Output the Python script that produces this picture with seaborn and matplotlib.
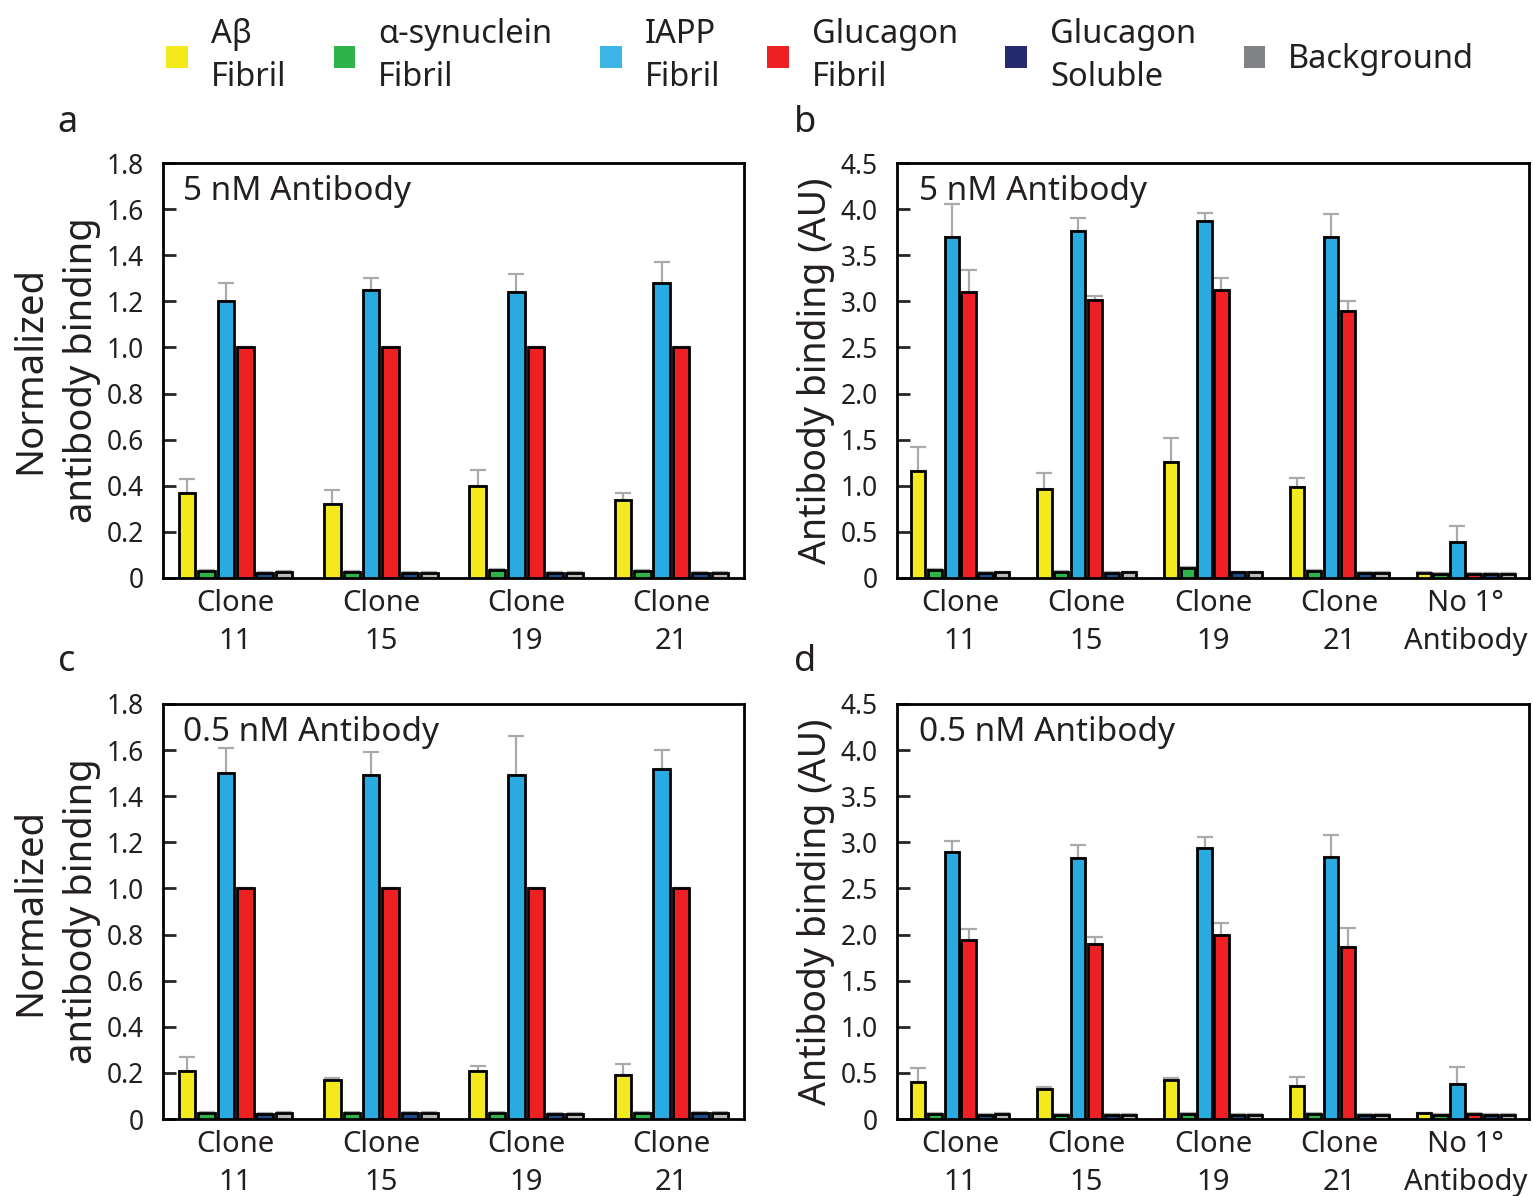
import numpy as np
import pandas as pd
import matplotlib
matplotlib.use("Agg")
import matplotlib.pyplot as plt
import seaborn as sns
from matplotlib.patches import Patch
from matplotlib.ticker import FuncFormatter

sns.set_style("white")
plt.rcParams['font.family'] = ['Noto Sans', 'DejaVu Sans']

series = ["Aβ\nFibril", "α-synuclein\nFibril", "IAPP\nFibril", "Glucagon\nFibril", "Glucagon\nSoluble", "Background"]
colors = ["#F2EA1C", "#2DB34A", "#3CB4E6", "#ED2024", "#262A6E", "#808285"]
bar_colors = ["#F2EA1C", "#2DB34A", "#29ABE2", "#ED2024", "#1F4A88", "#B8B8B8"]

clones4 = ["Clone\n11", "Clone\n15", "Clone\n19", "Clone\n21"]
clones5 = ["Clone\n11", "Clone\n15", "Clone\n19", "Clone\n21", "No 1°\nAntibody"]

# Panel a: normalized, 5 nM (rows = clones, cols = series)
a_vals = [[0.37, 0.03, 1.20, 1.00, 0.02, 0.025],
          [0.32, 0.025, 1.25, 1.00, 0.02, 0.02],
          [0.40, 0.035, 1.24, 1.00, 0.02, 0.02],
          [0.34, 0.03, 1.28, 1.00, 0.02, 0.02]]
a_err = [[0.06, 0.005, 0.08, 0.0, 0.004, 0.004],
         [0.06, 0.004, 0.05, 0.0, 0.004, 0.004],
         [0.07, 0.005, 0.08, 0.0, 0.004, 0.004],
         [0.03, 0.004, 0.09, 0.0, 0.004, 0.004]]

# Panel b: AU, 5 nM
b_vals = [[1.16, 0.09, 3.70, 3.10, 0.05, 0.06],
          [0.96, 0.07, 3.76, 3.01, 0.05, 0.06],
          [1.26, 0.11, 3.87, 3.12, 0.06, 0.06],
          [0.99, 0.08, 3.70, 2.89, 0.05, 0.05],
          [0.05, 0.04, 0.39, 0.04, 0.04, 0.04]]
b_err = [[0.26, 0.01, 0.36, 0.24, 0.01, 0.01],
         [0.18, 0.01, 0.14, 0.05, 0.01, 0.01],
         [0.26, 0.01, 0.09, 0.13, 0.01, 0.01],
         [0.09, 0.01, 0.25, 0.11, 0.01, 0.01],
         [0.01, 0.01, 0.17, 0.01, 0.01, 0.01]]

# Panel c: normalized, 0.5 nM
c_vals = [[0.21, 0.025, 1.50, 1.00, 0.02, 0.025],
          [0.17, 0.025, 1.49, 1.00, 0.025, 0.025],
          [0.21, 0.025, 1.49, 1.00, 0.02, 0.02],
          [0.19, 0.025, 1.52, 1.00, 0.025, 0.025]]
c_err = [[0.06, 0.004, 0.11, 0.0, 0.004, 0.004],
         [0.01, 0.004, 0.10, 0.0, 0.004, 0.004],
         [0.02, 0.004, 0.17, 0.0, 0.004, 0.004],
         [0.05, 0.004, 0.08, 0.0, 0.004, 0.004]]

# Panel d: AU, 0.5 nM
d_vals = [[0.40, 0.05, 2.89, 1.94, 0.04, 0.05],
          [0.32, 0.04, 2.83, 1.90, 0.04, 0.04],
          [0.42, 0.05, 2.94, 1.99, 0.04, 0.04],
          [0.36, 0.05, 2.84, 1.87, 0.04, 0.04],
          [0.06, 0.04, 0.38, 0.05, 0.04, 0.04]]
d_err = [[0.15, 0.01, 0.12, 0.12, 0.01, 0.01],
         [0.03, 0.01, 0.14, 0.07, 0.01, 0.01],
         [0.03, 0.01, 0.12, 0.14, 0.01, 0.01],
         [0.10, 0.01, 0.24, 0.20, 0.01, 0.01],
         [0.01, 0.01, 0.18, 0.01, 0.01, 0.01]]

fig = plt.figure(figsize=(15.33, 11.96), dpi=100)
W, H = 1533, 1196

def add_ax(l, t, r, b):
    return fig.add_axes([l / W, 1 - b / H, (r - l) / W, (b - t) / H])

def panel(ax, cats, vals, errs, ymax, step, title, ylabel, ylsize):
    rows = []
    for i, c in enumerate(cats):
        for j, s in enumerate(series):
            rows.append({"cat": c, "series": s, "value": vals[i][j]})
    df = pd.DataFrame(rows)
    sns.barplot(data=df, x="cat", y="value", hue="series", order=cats, hue_order=series,
                palette=bar_colors, saturation=1, edgecolor="black", linewidth=2.0, gap=0.15,
                errorbar=None, legend=False, ax=ax, zorder=3)
    bar_conts = list(ax.containers)
    for j, cont in enumerate(bar_conts):
        xs = [p.get_x() + p.get_width() / 2 for p in cont]
        tops = [p.get_height() for p in cont]
        e = [errs[i][j] for i in range(len(cats))]
        ax.errorbar(xs, tops, yerr=[np.zeros(len(e)), e], fmt="none", ecolor="#AAAAAA",
                    elinewidth=1.6, capsize=6, capthick=1.6, zorder=2)
    ax.set_ylim(0, ymax)
    ax.set_xlim(-0.5, len(cats) - 0.5)
    ax.set_yticks(np.arange(0, ymax + 1e-9, step))
    ax.yaxis.set_major_formatter(FuncFormatter(lambda v, p: "0" if abs(v) < 1e-9 else f"{v:.1f}"))
    ax.tick_params(axis="y", direction="in", length=9, width=2, labelsize=19, pad=14, left=True,
                   labelcolor="#231F20")
    ax.tick_params(axis="x", length=0, labelsize=21, pad=8, labelcolor="#231F20")
    for sp in ax.spines.values():
        sp.set_visible(True)
        sp.set_color("black")
        sp.set_linewidth(2)
    ax.set_xlabel("")
    ax.set_ylabel(ylabel, fontsize=ylsize, labelpad=4, linespacing=1.45, color="#231F20")
    ax.text(0.035, 0.97, title, transform=ax.transAxes, fontsize=24, va="top", ha="left",
            color="#231F20")
    ax.grid(False)
    for lbl in ax.get_xticklabels():
        lbl.set_linespacing(1.4)

ax_a = add_ax(163, 163, 744, 578)
ax_b = add_ax(897, 163, 1529, 578)
ax_c = add_ax(163, 704, 744, 1119)
ax_d = add_ax(897, 704, 1529, 1119)

panel(ax_a, clones4, a_vals, a_err, 1.8, 0.2, "5 nM Antibody", "Normalized\nantibody binding", 27.5)
panel(ax_b, clones5, b_vals, b_err, 4.5, 0.5, "5 nM Antibody", "Antibody binding (AU)", 27)
panel(ax_c, clones4, c_vals, c_err, 1.8, 0.2, "0.5 nM Antibody", "Normalized\nantibody binding", 27.5)
panel(ax_d, clones5, d_vals, d_err, 4.5, 0.5, "0.5 nM Antibody", "Antibody binding (AU)", 27)

for letter, x, y in [("a", 67, 123), ("b", 805, 123), ("c", 67, 662), ("d", 805, 662)]:
    fig.text(x / W, 1 - y / H, letter, fontsize=26, ha="center", va="center", color="#231F20")

handles = [Patch(facecolor=c, edgecolor="none") for c in colors]
leg = fig.legend(handles, series, loc="center", bbox_to_anchor=(0.535, 1 - 56 / H), ncol=6,
                 frameon=False, fontsize=23.5, handlelength=0.67, handleheight=0.67,
                 handletextpad=0.7, columnspacing=1.45, labelspacing=0.2)
for t in leg.get_texts():
    t.set_linespacing(1.4)
    t.set_color("#231F20")

fig.savefig("out.png", dpi=100)
